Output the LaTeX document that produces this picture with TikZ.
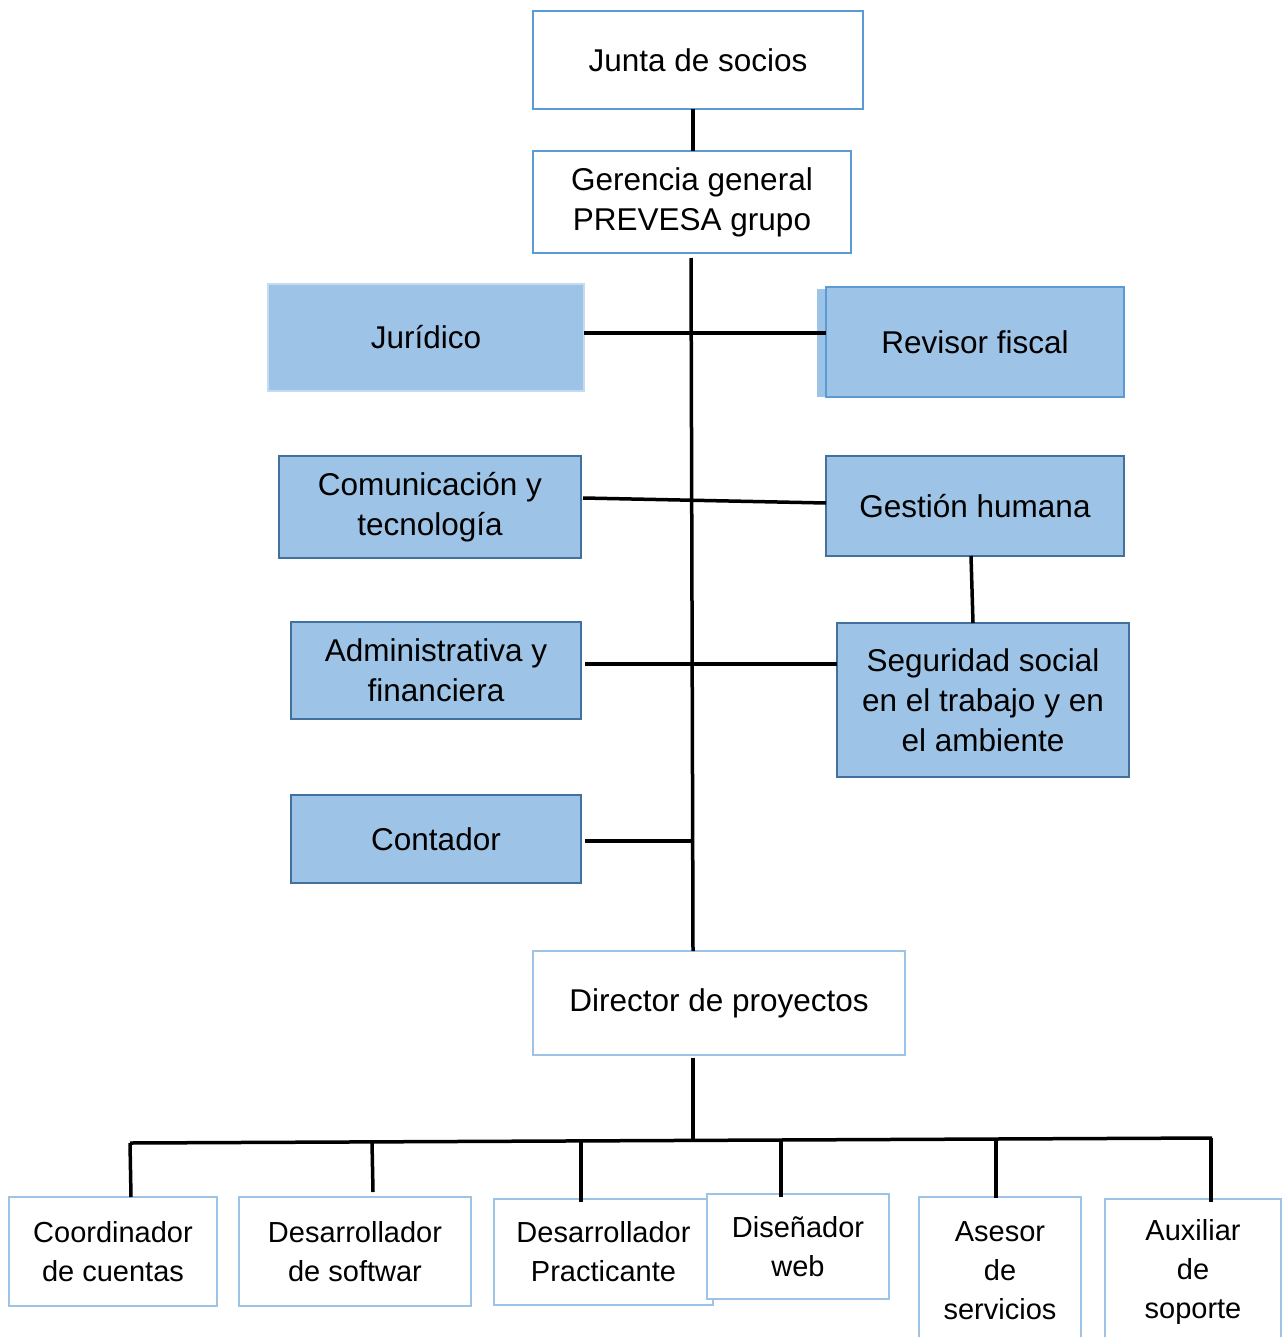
\documentclass[tikz,border=0pt]{standalone}
\usepackage{fontspec}
\setmainfont{Liberation Sans}
\definecolor{fillb}{HTML}{9DC3E6}
\definecolor{edgeA}{HTML}{5B9BD5}
\definecolor{edgeL}{HTML}{C5DCF0}
\definecolor{edgeD}{HTML}{41719C}
\definecolor{edgeW}{HTML}{9DC3E6}
\begin{document}
\begin{tikzpicture}[x=1pt,y=-1pt,
  box/.style={rectangle, inner sep=0pt, outer sep=0pt, line width=2pt, align=center,
              font=\fontsize{31.5}{40}\selectfont},
  wbox/.style={box, draw=edgeA, fill=white},
  bbox/.style={box, draw=edgeD, fill=fillb},
  sbox/.style={box, draw=edgeW, fill=white, font=\fontsize{29}{39}\selectfont},
  link/.style={line width=3.5pt, black}]
\useasboundingbox (0,0) rectangle (1285,1337);
\fill[white] (0,0) rectangle (1285,1337);

% top
\node[wbox, minimum width=330, minimum height=98] (junta) at (698,60) {Junta de socios};
\node[wbox, minimum width=318, minimum height=102] (ger) at (692,202) {Gerencia general\\PREVESA grupo};

% staff
\node[box, draw=edgeL, fill=fillb, minimum width=316, minimum height=107] (jur) at (426,337.5) {Jurídico};
\fill[fillb] (817,289) rectangle (826,397);
\node[box, draw=edgeA, fill=fillb, minimum width=298, minimum height=110] (rev) at (975,342) {Revisor fiscal};
\node[bbox, minimum width=302, minimum height=102] (com) at (430,507) {Comunicación y\\tecnología};
\node[bbox, minimum width=298, minimum height=100] (ges) at (975,506) {Gestión humana};
\node[bbox, minimum width=290, minimum height=97] (adm) at (436,670.5) {Administrativa y\\financiera};
\node[bbox, minimum width=292, minimum height=154] (seg) at (983,700) {Seguridad social\\en el trabajo y en\\el ambiente};
\node[bbox, minimum width=290, minimum height=88] (cont) at (436,839) {Contador};

% director
\node[box, draw=edgeW, fill=white, minimum width=372, minimum height=104] (dir) at (719,1003) {Director de proyectos};

% bottom row
\node[sbox, minimum width=208, minimum height=109] (coo) at (113,1251.5) {Coordinador\\de cuentas};
\node[sbox, minimum width=232, minimum height=109] (sw) at (355,1251.5) {Desarrollador\\de softwar};
\node[sbox, minimum width=219, minimum height=106] (pr) at (603.5,1252) {Desarrollador\\Practicante};
\node[sbox, minimum width=182, minimum height=105] (di) at (798,1246.5) {Diseñador\\web};
\node[sbox, minimum width=162, minimum height=148] (as) at (1000,1271) {Asesor\\de\\servicios};
\node[sbox, minimum width=176, minimum height=146] (au) at (1193,1272) {Auxiliar\\de\\soporte};

% connectors
\coordinate (jx) at (693,0);
\draw[link] (junta.south -| jx) -- (ger.north -| jx);
\draw[link] ([xshift=-1pt,yshift=-5pt]ger.south) -- ([xshift=-26pt]dir.north);
\draw[link] ([yshift=4.5pt]jur.east) -- ([yshift=9pt]rev.west);
\draw[link] ([xshift=2pt,yshift=9pt]com.east) -- ([yshift=3pt]ges.west);
\draw[link] ([xshift=4pt,yshift=6.5pt]adm.east) -- ([yshift=36pt]seg.west);
\coordinate (trk) at (692,841);
\draw[link] ([xshift=4pt,yshift=-2pt]cont.east) -- (trk);
\draw[link] ([xshift=-4pt]ges.south) -- ([xshift=-10pt]seg.north);

\coordinate (busL) at (130,1143);
\coordinate (busR) at (1212,1138);
\coordinate (busD) at (693,1140.5);
\draw[link] ([xshift=-26pt,yshift=-3pt]dir.south) -- (busD);
\draw[link] (busL) -- (busR);
\coordinate (b1) at (130,1143);
\coordinate (b2) at (372,1142);
\coordinate (b3) at (581,1141);
\coordinate (b4) at (781,1140.5);
\coordinate (b5) at (996,1139.5);
\coordinate (b6) at (1211,1138);
\draw[link] (b1) -- ([xshift=18pt]coo.north);
\draw[link] (b2) -- ([xshift=18pt,yshift=5pt]sw.north);
\draw[link] (b3) -- ([xshift=-22.5pt,yshift=-3pt]pr.north);
\draw[link] (b4) -- ([xshift=-17pt,yshift=-3pt]di.north);
\draw[link] (b5) -- ([xshift=-4pt,yshift=-1pt]as.north);
\draw[link] (b6) -- ([xshift=18pt,yshift=-3pt]au.north);
\end{tikzpicture}
\end{document}
